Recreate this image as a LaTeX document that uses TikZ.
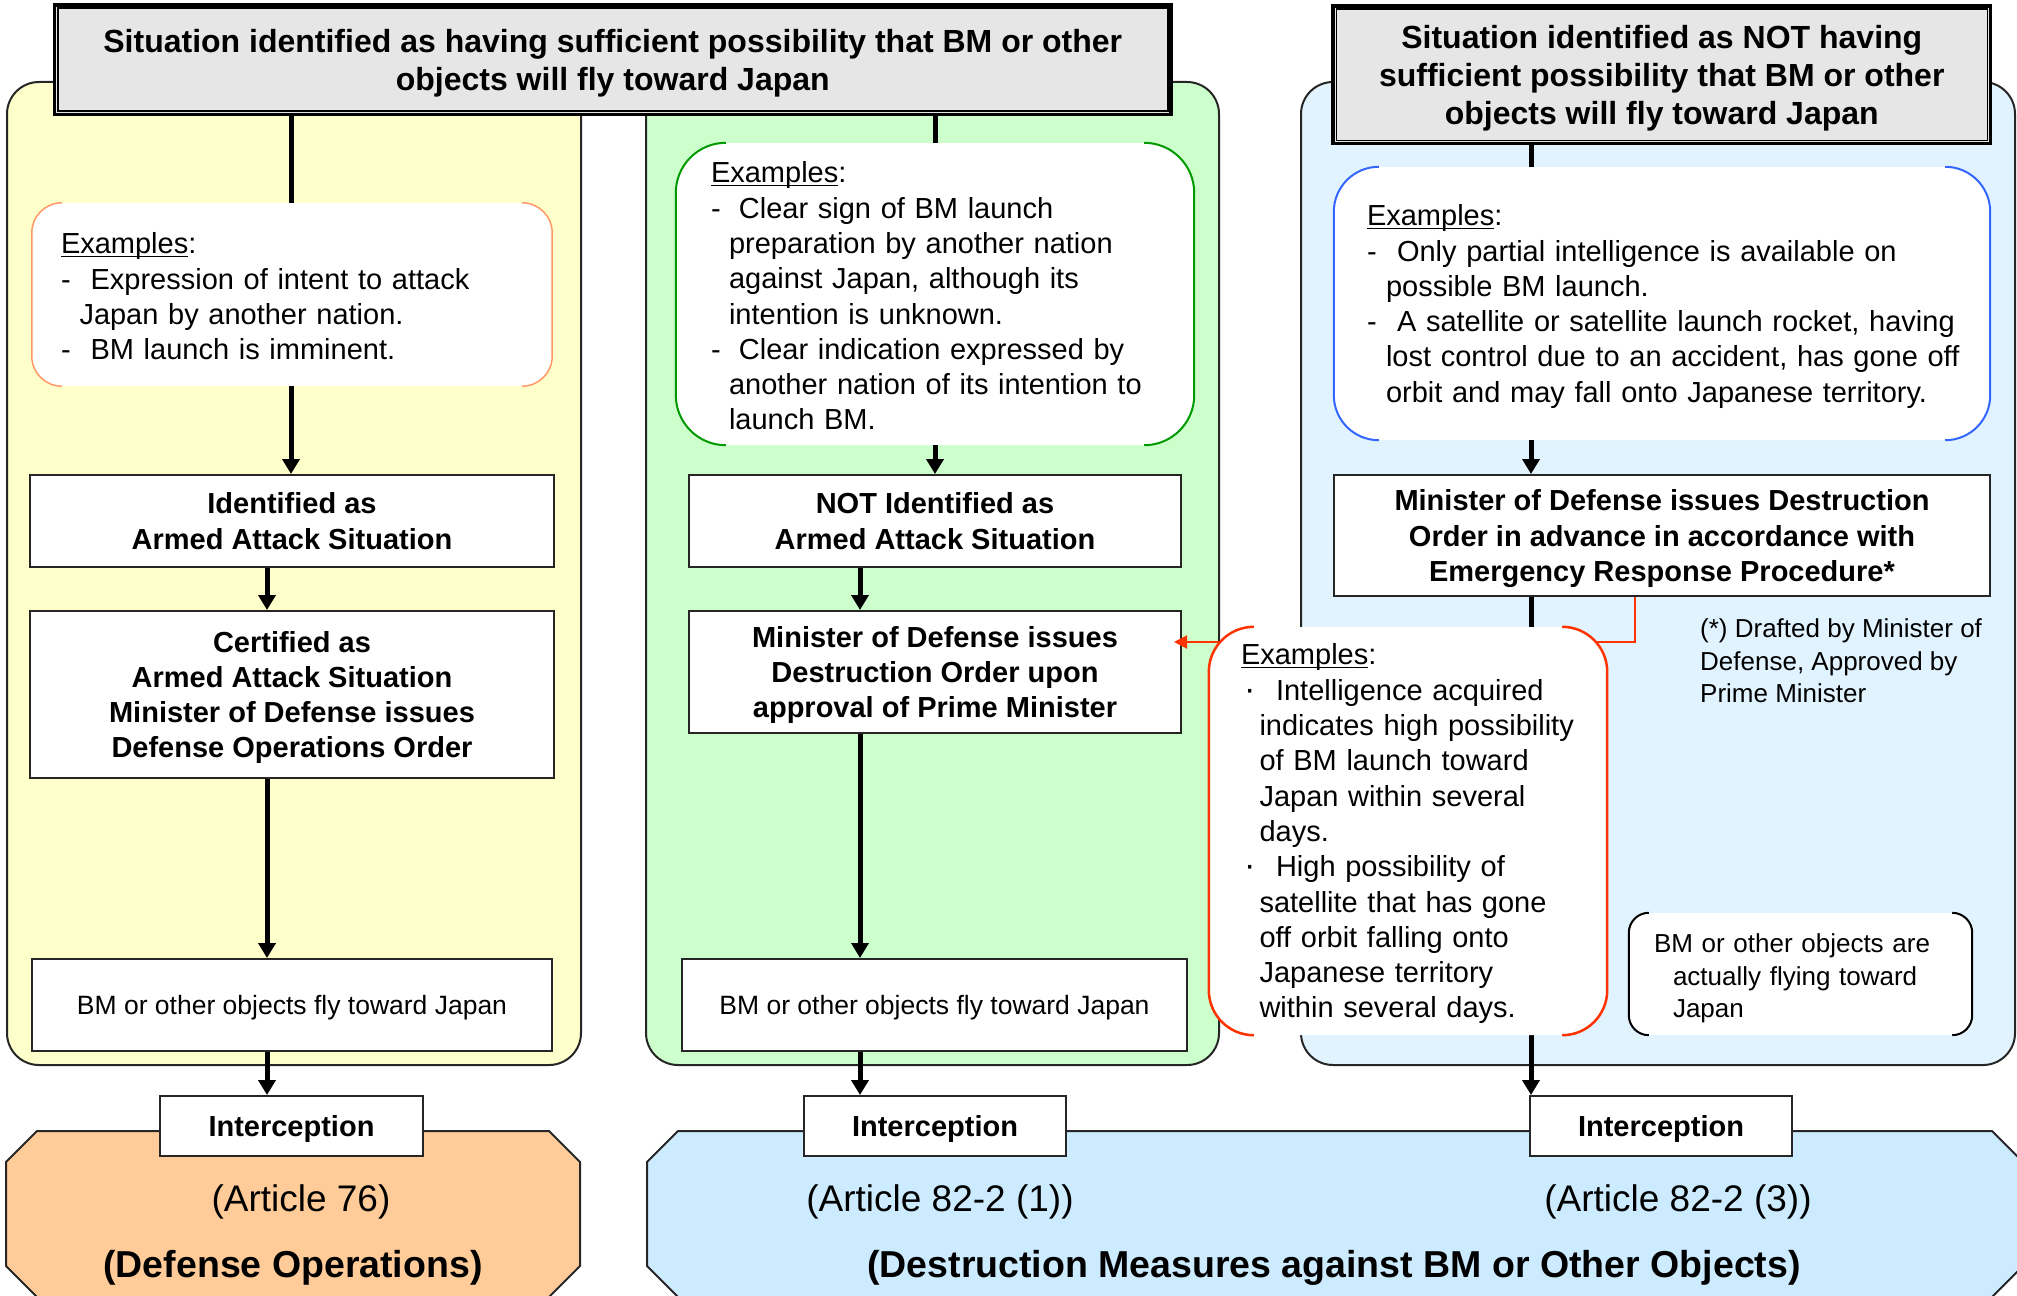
\documentclass[tikz,border=0pt]{standalone}
\usepackage{fontspec}
\setmainfont{Liberation Sans}
\usetikzlibrary{arrows.meta,calc}
\definecolor{cyel}{HTML}{FFFFCC}
\definecolor{cgrn}{HTML}{CCFFCC}
\definecolor{cblu}{HTML}{E1F3FE}
\definecolor{coct}{HTML}{FFCC99}
\definecolor{cbok}{HTML}{CCEBFF}
\definecolor{chdr}{HTML}{E6E6E6}
\definecolor{cred}{HTML}{FF3300}
\definecolor{corg}{HTML}{FF9966}
\definecolor{cgl}{HTML}{009900}
\definecolor{cbl}{HTML}{3366FF}
\definecolor{cedge}{HTML}{262626}
\newcommand{\exul}[1]{\setbox0=\hbox{#1}\rlap{\rule[-3.5pt]{\wd0}{1.6pt}}\box0}
\newcommand{\myl}[1]{\mbox{#1}}
\newcommand{\dotb}{\makebox[35pt][l]{\hspace{3pt}{\fontsize{34}{34}\selectfont ·}}}
\newcommand{\bodyf}{\fontsize{29}{35.3}\selectfont}
\newcommand{\smallf}{\fontsize{26}{32.5}\selectfont}
\newcommand{\hdrf}{\fontsize{32}{37.8}\selectfont\bfseries}
\newcommand{\artf}{\fontsize{37}{43}\selectfont}
\newcommand{\artbf}{\fontsize{37.5}{43}\selectfont\bfseries}
\newcommand{\brkts}[4]{%
  \draw[#3,line width=#4,rounded corners=#2pt] ($(#1.north west)+(#2,0)$) -- (#1.north west) -- (#1.south west) -- ($(#1.south west)+(#2,0)$);
  \draw[#3,line width=#4,rounded corners=#2pt] ($(#1.north east)+(-#2,0)$) -- (#1.north east) -- (#1.south east) -- ($(#1.south east)+(-#2,0)$);}
\tikzset{
 panel/.style={draw=cedge,line width=2pt,rounded corners=32pt},
 hbox/.style={draw=black,line width=3.5pt,fill=chdr,inner sep=0pt,align=center,font=\hdrf,text depth=-2pt},
 bbox/.style={draw=cedge,line width=2pt,fill=white,inner sep=0pt,align=center,font=\bodyf\bfseries,text depth=0pt},
 pbox/.style={draw=cedge,line width=2pt,fill=white,inner sep=0pt,align=center,font=\smallf,text depth=0pt},
 exbox/.style={fill=white,inner ysep=0pt,align=left,font=\bodyf,text height=25pt},
 conn/.style={line width=5pt,draw=black},
 arr/.style={conn,-{Triangle[length=15pt,width=17pt]}},
 redarr/.style={draw=cred,line width=2pt,-{Triangle[length=13pt,width=13pt]}},
 oct/.style={draw=cedge,line width=2pt},
 lbl/.style={inner sep=0pt,text depth=0pt},
}
\begin{document}
\begin{tikzpicture}[x=1pt,y=-1pt]
\useasboundingbox (0,0) rectangle (2017,1295);
% column panels
\draw[panel,fill=cyel] (7,82) rectangle (581,1065);
\draw[panel,fill=cgrn] (646,82) rectangle (1219,1065);
\draw[panel,fill=cblu] (1301,82) rectangle (2015,1065);
% bottom octagons
\draw[oct,fill=coct] (6,1162) -- (37,1131) -- (549,1131) -- (580,1162) -- (580,1266) -- (549,1297) -- (37,1297) -- (6,1266) -- cycle;
\draw[oct,fill=cbok] (647,1162) -- (678,1131) -- (1992,1131) -- (2023,1162) -- (2023,1266) -- (1992,1297) -- (678,1297) -- (647,1266) -- cycle;
% headers
\node[hbox,minimum width=1116.5pt,minimum height=109.3pt] (h1) at (612.75,59.65)
  {Situation identified as having sufficient possibility that BM or other\\objects will fly toward Japan};
\draw[line width=1.5pt] ($(h1.north west)+(5,5)$) rectangle ($(h1.south east)+(-5,-5)$);
\node[hbox,minimum width=657.5pt,minimum height=137.5pt] (h2) at (1661.75,74.75)
  {Situation identified as NOT having\\sufficient possibility that BM or other\\objects will fly toward Japan};
\draw[line width=1.5pt] ($(h2.north west)+(5,5)$) rectangle ($(h2.south east)+(-5,-5)$);
% axis coordinates for connectors
\coordinate (yA) at (291,0);
\coordinate (yB) at (267,0);
\coordinate (gA) at (935,0);
\coordinate (gB) at (860,0);
\coordinate (bA) at (1531,0);
\coordinate (rA) at (1635,0);
% left column
\node[exbox,minimum height=183pt,text width=462pt,inner xsep=29pt,rounded corners=30pt] (yex) at (292,294.5)
  {\exul{Examples}:\\
   \makebox[29.6pt][l]{-}Expression of intent to attack\\
   \hspace*{18.5pt}Japan by another nation.\\
   \makebox[29.6pt][l]{-}BM launch is imminent.};
\brkts{yex}{30}{corg}{1.5pt}
\node[bbox,minimum width=524pt,minimum height=92pt] (yid) at (292,521) {Identified as\\Armed Attack Situation};
\node[bbox,minimum width=524pt,minimum height=167pt] (ycert) at (292,694.5)
  {Certified as\\Armed Attack Situation\\Minister of Defense issues\\Defense Operations Order};
\node[pbox,minimum width=520pt,minimum height=92pt,font=\fontsize{26.5}{32.5}\selectfont] (ybm) at (292,1005) {BM or other objects fly toward Japan};
\node[bbox,minimum width=263pt,minimum height=60pt] (yint) at (291.5,1126) {Interception};
% middle column
\node[exbox,minimum height=302pt,text width=448pt,inner xsep=35pt,rounded corners=50pt] (gex) at (935,294)
  {\exul{Examples}:\\
   \makebox[28pt][l]{-}Clear sign of BM launch\\
   \hspace*{18pt}preparation by another nation\\
   \hspace*{18pt}against Japan, although its\\
   \hspace*{18pt}intention is unknown.\\
   \makebox[28pt][l]{-}Clear indication expressed by\\
   \hspace*{18pt}\myl{another nation of its intention to}\\
   \hspace*{18pt}launch BM.};
\brkts{gex}{50}{cgl}{2pt}
\node[bbox,minimum width=492pt,minimum height=92pt] (gnot) at (935,521) {NOT Identified as\\Armed Attack Situation};
\node[bbox,minimum width=492pt,minimum height=122pt] (gmin) at (935,672)
  {Minister of Defense issues\\Destruction Order upon\\approval of Prime Minister};
\node[pbox,minimum width=505pt,minimum height=92pt,font=\fontsize{26.5}{32.5}\selectfont] (gbm) at (934.5,1005) {BM or other objects fly toward Japan};
\node[bbox,minimum width=262pt,minimum height=60pt] (gint) at (935,1126) {Interception};
% right column
\node[exbox,minimum height=273pt,text width=590pt,inner xsep=33pt,rounded corners=45pt,text height=27pt] (bex) at (1662,303.5)
  {\exul{Examples}:\\
   \makebox[30pt][l]{-}\myl{Only partial intelligence is available on}\\
   \hspace*{19pt}possible BM launch.\\
   \makebox[30pt][l]{-}\myl{A satellite or satellite launch rocket, having}\\
   \hspace*{19pt}\myl{lost control due to an accident, has gone off}\\
   \hspace*{19pt}\myl{orbit and may fall onto Japanese territory.}};
\brkts{bex}{45}{cbl}{2pt}
\node[bbox,minimum width=656pt,minimum height=121pt] (bmin) at (1662,535.5)
  {Minister of Defense issues Destruction\\Order in advance in accordance with\\Emergency Response Procedure*};
\node[bbox,minimum width=262pt,minimum height=60pt] (bint) at (1661,1126) {Interception};
% connectors
\draw[conn] (h1.south -| yA) -- (yex.north -| yA);
\draw[arr] (yex.south -| yA) -- (yid.north -| yA);
\draw[arr] (yid.south -| yB) -- (ycert.north -| yB);
\draw[arr] (ycert.south -| yB) -- (ybm.north -| yB);
\draw[arr] (ybm.south -| yB) -- (yint.north -| yB);
\draw[conn] (h1.south -| gA) -- (gex.north -| gA);
\draw[arr] (gex.south -| gA) -- (gnot.north -| gA);
\draw[arr] (gnot.south -| gB) -- (gmin.north -| gB);
\draw[arr] (gmin.south -| gB) -- (gbm.north -| gB);
\draw[arr] (gbm.south -| gB) -- (gint.north -| gB);
\draw[conn] (h2.south -| bA) -- (bex.north -| bA);
\draw[arr] (bex.south -| bA) -- (bmin.north -| bA);
\draw[arr] (bmin.south -| bA) -- (bint.north -| bA);
\draw[redarr,shorten >=-8pt] (bmin.south -| rA) |- ($(gmin.east)+(0,-30)$);
% red examples (drawn over the lines)
\node[exbox,minimum height=408pt,text width=334pt,inner xsep=32pt,rounded corners=45pt,text height=27pt] (rex) at (1408,831)
  {\exul{Examples}:\\
   \dotb Intelligence acquired\\
   \hspace*{18.5pt}\myl{indicates high possibility}\\
   \hspace*{18.5pt}of BM launch toward\\
   \hspace*{18.5pt}Japan within several\\
   \hspace*{18.5pt}days.\\
   \dotb High possibility of\\
   \hspace*{18.5pt}satellite that has gone\\
   \hspace*{18.5pt}off orbit falling onto\\
   \hspace*{18.5pt}Japanese territory\\
   \hspace*{18.5pt}within several days.};
\brkts{rex}{45}{cred}{2.5pt}
\node[exbox,font=\smallf,minimum height=122pt,text width=293pt,inner xsep=25pt,rounded corners=20pt,text height=28pt] (bfly) at (1800.5,974)
  {BM or other objects are\\\hspace*{19pt}actually flying toward\\\hspace*{19pt}Japan};
\brkts{bfly}{20}{black}{2pt}
\node[anchor=west,align=left,font=\smallf,inner sep=0pt] (fn) at (1700,661)
  {(*) Drafted by Minister of\\Defense, Approved by\\Prime Minister};
% article labels
\node[lbl,font=\artf] (a76) at (301,1198) {(Article 76)};
\node[lbl,font=\artbf] (dop) at (293,1264) {(Defense Operations)};
\node[lbl,font=\artf] (a821) at (940,1198) {(Article 82-2 (1))};
\node[lbl,font=\artf] (a823) at (1678,1198) {(Article 82-2 (3))};
\node[lbl,font=\artbf] (dm) at (1334,1264) {(Destruction Measures against BM or Other Objects)};
\end{tikzpicture}
\end{document}
